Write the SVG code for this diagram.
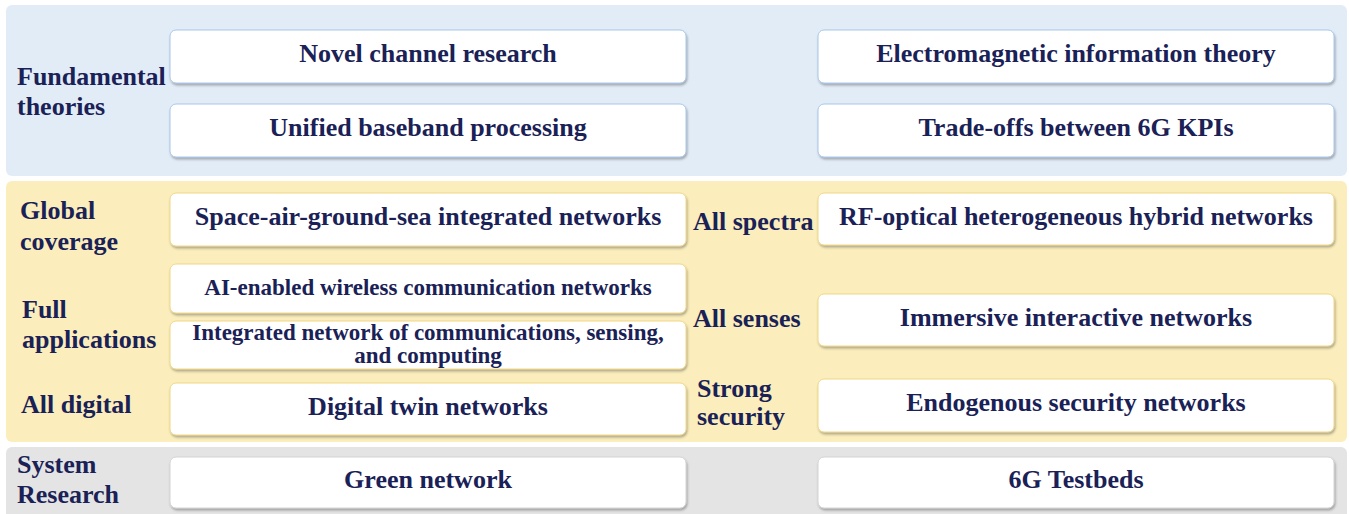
<svg xmlns="http://www.w3.org/2000/svg" width="1349" height="514" viewBox="0 0 1349 514">
<defs>
<filter id="sh" x="-5%" y="-20%" width="110%" height="150%">
<feDropShadow dx="1" dy="2" stdDeviation="1" flood-color="#555" flood-opacity="0.45"/>
</filter>
</defs>
<style>
text{font-family:"Liberation Serif","Times New Roman",serif;font-weight:bold;fill:#1a2156;font-size:26px}
.c{text-anchor:middle}
.s{font-size:23px}
.box{fill:#fff;stroke-width:1;filter:url(#sh)}
.bb{stroke:#a8c8ec}
.yb{stroke:#f2d886}
.gb{stroke:#d4d4d4}
</style>
<rect id="panel-fundamental" x="6" y="5" width="1341" height="171" rx="6" fill="#e2ecf7"/>
<rect id="panel-applications" x="6" y="181" width="1341" height="261" rx="6" fill="#fbeebc"/>
<rect id="panel-system" x="6" y="447" width="1341" height="75" rx="6" fill="#e4e4e4"/>

<g id="label-fundamental"><text x="17" y="85">Fundamental</text><text x="17" y="115">theories</text></g>
<g id="label-global"><text x="20" y="219">Global</text><text x="20" y="250">coverage</text></g>
<g id="label-full"><text x="22" y="318">Full</text><text x="22" y="348">applications</text></g>
<g id="label-digital"><text x="21" y="413">All digital</text></g>
<g id="label-system"><text x="17" y="473">System</text><text x="17" y="503">Research</text></g>
<g id="label-spectra"><text x="693" y="230">All spectra</text></g>
<g id="label-senses"><text x="693" y="327">All senses</text></g>
<g id="label-security"><text x="697" y="397">Strong</text><text x="697" y="425">security</text></g>

<g id="novel-channel"><rect class="box bb" x="170" y="30" width="516" height="53" rx="6"/><text class="c" x="428" y="62">Novel channel research</text></g>
<g id="unified-baseband"><rect class="box bb" x="170" y="104" width="516" height="53" rx="6"/><text class="c" x="428" y="136">Unified baseband processing</text></g>
<g id="em-theory"><rect class="box bb" x="818" y="30" width="516" height="53" rx="6"/><text class="c" x="1076" y="62">Electromagnetic information theory</text></g>
<g id="tradeoffs"><rect class="box bb" x="818" y="104" width="516" height="53" rx="6"/><text class="c" x="1076" y="136">Trade-offs between 6G KPIs</text></g>

<g id="sagsin"><rect class="box yb" x="170" y="193" width="516" height="53" rx="6"/><text class="c" x="428" y="225">Space-air-ground-sea integrated networks</text></g>
<g id="ai-enabled"><rect class="box yb" x="170" y="264" width="516" height="49" rx="6"/><text class="c s" x="428" y="295">AI-enabled wireless communication networks</text></g>
<g id="integrated-csc"><rect class="box yb" x="170" y="321" width="516" height="48" rx="6"/><text class="c s" x="428" y="340">Integrated network of communications, sensing,</text><text class="c s" x="428" y="363">and computing</text></g>
<g id="digital-twin"><rect class="box yb" x="170" y="383" width="516" height="52" rx="6"/><text class="c" x="428" y="415">Digital twin networks</text></g>
<g id="rf-optical"><rect class="box yb" x="818" y="193" width="516" height="52" rx="6"/><text class="c" x="1076" y="225">RF-optical heterogeneous hybrid networks</text></g>
<g id="immersive"><rect class="box yb" x="818" y="294" width="516" height="52" rx="6"/><text class="c" x="1076" y="326">Immersive interactive networks</text></g>
<g id="endogenous"><rect class="box yb" x="818" y="379" width="516" height="53" rx="6"/><text class="c" x="1076" y="411">Endogenous security networks</text></g>

<g id="green"><rect class="box gb" x="170" y="457" width="516" height="51" rx="6"/><text class="c" x="428" y="488">Green network</text></g>
<g id="testbeds"><rect class="box gb" x="818" y="457" width="516" height="51" rx="6"/><text class="c" x="1076" y="488">6G Testbeds</text></g>
</svg>
